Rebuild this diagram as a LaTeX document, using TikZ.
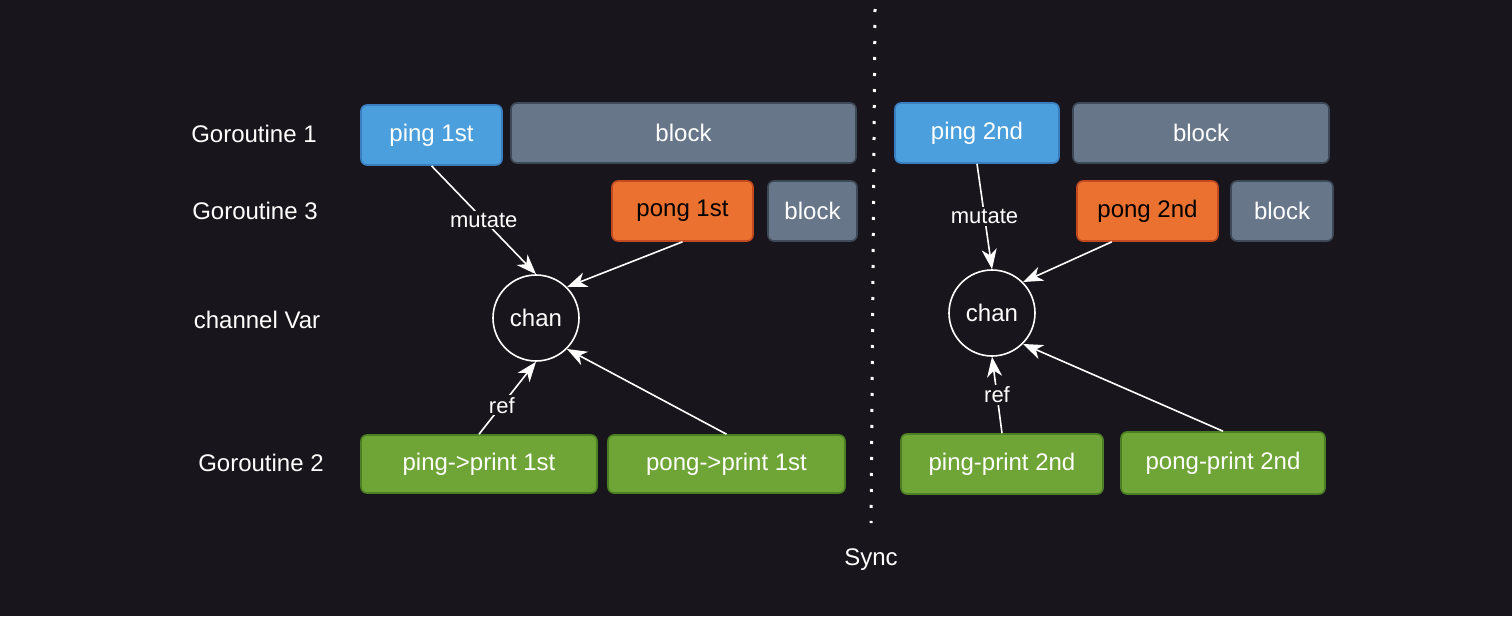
\documentclass[tikz,border=0pt]{standalone}
\usepackage{fontspec}
\setmainfont{Liberation Sans}
\usepackage{tikz}
\usetikzlibrary{arrows.meta,calc}

\definecolor{bgdark}{HTML}{18161C}
\definecolor{pingfill}{HTML}{4C9FDD}
\definecolor{pingline}{HTML}{3A7EC0}
\definecolor{blockfill}{HTML}{677689}
\definecolor{blockline}{HTML}{3E4957}
\definecolor{pongfill}{HTML}{EA712F}
\definecolor{pongline}{HTML}{C24A1E}
\definecolor{printfill}{HTML}{6FA537}
\definecolor{printline}{HTML}{4C7F25}

\tikzset{
  task/.style={draw, line width=1.6pt, rounded corners=6pt, inner sep=0pt,
    minimum height=60pt, font=\fontsize{24}{28}\selectfont, text=white},
  ping/.style={task, fill=pingfill, draw=pingline},
  blocked/.style={task, fill=blockfill, draw=blockline},
  pong/.style={task, fill=pongfill, draw=pongline, text=black},
  print/.style={task, fill=printfill, draw=printline},
  chanvar/.style={circle, draw=white, line width=1.6pt, fill=bgdark, minimum size=86pt,
    inner sep=0pt, font=\fontsize{24}{28}\selectfont, text=white},
  rowlabel/.style={font=\fontsize{24}{28}\selectfont, text=white},
  flow/.style={-{Stealth[length=20pt,width=15pt,inset=6pt]}, white, line width=1.6pt},
  flowlabel/.style={fill=bgdark, inner sep=2pt, font=\fontsize{22}{26}\selectfont, text=white}
}

\begin{document}
\begin{tikzpicture}[x=1pt,y=-1pt]
    \fill[bgdark] (0,0) rectangle (1512,616);

    % row labels
    \node[rowlabel] (g1)   at (254,134) {Goroutine 1};
    \node[rowlabel] (g3)   at (255,211) {Goroutine 3};
    \node[rowlabel] (cvar) at (257,320) {channel Var};
    \node[rowlabel] (g2)   at (261,463) {Goroutine 2};

    % first round
    \node[ping,    minimum width=141pt] (ping1)  at (431.5,135) {ping 1st};
    \node[blocked, minimum width=345pt] (blk1)   at (683.5,133) {block};
    \node[pong,    minimum width=141pt] (pong1)  at (682.5,211) {pong 1st};
    \node[blocked, minimum width=89pt]  (blk3)   at (812.5,211) {block};
    \node[chanvar]                      (chan1)  at (536,318)   {chan};
    \node[print,   minimum width=236pt, minimum height=58pt] (pprint1) at (479,464)   {ping->print 1st};
    \node[print,   minimum width=237pt, minimum height=58pt] (qprint1) at (726.5,464) {pong->print 1st};

    % sync line
    \coordinate (synctop) at (875,9);
    \coordinate (syncbot) at (871,523);
    \draw[white, line width=3pt, dash pattern=on 3pt off 13pt] (synctop) -- (syncbot);
    \node[rowlabel] (sync) at (871,560) {Sync};

    % second round
    \node[ping,    minimum width=164pt] (ping2)  at (977,133)    {ping 2nd};
    \node[blocked, minimum width=256pt] (blk2)   at (1201,133)   {block};
    \node[pong,    minimum width=141pt] (pong2)  at (1147.5,211) {pong 2nd};
    \node[blocked, minimum width=102pt] (blk4)   at (1282,211)   {block};
    \node[chanvar]                      (chan2)  at (992,313)    {chan};
    \node[print,   minimum width=202pt] (pprint2) at (1002,464)  {ping-print 2nd};
    \node[print,   minimum width=204pt, minimum height=62pt] (qprint2) at (1223,463) {pong-print 2nd};

    \path[flow] (ping1.south)   edge node[flowlabel] {mutate} (chan1.north)
                (pong1.south)   edge (chan1.north east)
                (pprint1.north) edge node[flowlabel, pos=0.4] {ref} (chan1.south)
                (qprint1.north) edge (chan1.south east)
                (ping2.south)   edge node[flowlabel] {mutate} (chan2.north)
                ($(pong2.south west)!0.25!(pong2.south east)$) edge (chan2.north east)
                (pprint2.north) edge node[flowlabel] {ref} (chan2.south)
                (qprint2.north) edge (chan2.south east)
                ;
\end{tikzpicture}
\end{document}
